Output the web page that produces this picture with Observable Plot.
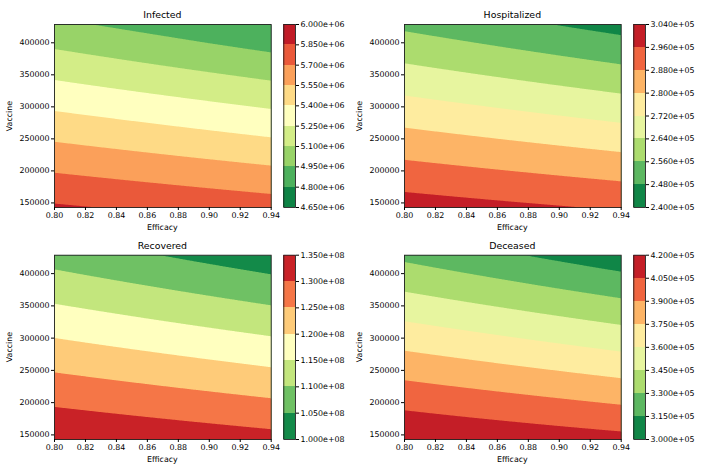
<!DOCTYPE html>
<html><head><meta charset="utf-8">
<script src="https://cdn.jsdelivr.net/npm/d3@7"></script>
<script src="https://cdn.jsdelivr.net/npm/@observablehq/plot@0.6"></script>
<style>
body{margin:0;background:#fff;}
#root{position:relative;width:701px;height:468px;overflow:hidden;background:#fff;font-family:"DejaVu Sans";color:#000;}
.abs{position:absolute;}
.lbl{position:absolute;white-space:nowrap;line-height:1;font-weight:400;}
</style></head><body><div id="root"></div>
<script>
// ---- data ----
const efficacyEdges = [0.80, 0.94];
const vaccineRows = [140000, 200000, 250000, 300000, 350000, 400000, 430000];
const xTicks = [0.80, 0.82, 0.84, 0.86, 0.88, 0.90, 0.92, 0.94];
const yTicks = [150000, 200000, 250000, 300000, 350000, 400000];

const infectedLeft  = [5878000, 5691000, 5536000, 5380000, 5225000, 5070000, 4976000];
const infectedRight = [5781000, 5578000, 5408000, 5239000, 5069000, 4899000, 4803000];
const infectedLevels = [4650000, 4800000, 4950000, 5100000, 5250000, 5400000, 5550000, 5700000, 5850000, 6000000];

const hospLeft  = [300320, 290760, 282790, 274830, 266860, 258900, 254120];
const hospRight = [295650, 285140, 276380, 267620, 258860, 250100, 244840];
const hospLevels = [240000, 248000, 256000, 264000, 272000, 280000, 288000, 296000, 304000];

const recLeft  = [135000000, 129380000, 124710000, 120020000, 115310000, 110620000, 107810000];
const recRight = [131960000, 125710000, 120510000, 115300000, 110090000, 104890000, 101760000];
const recLevels = [100000000, 105000000, 110000000, 115000000, 120000000, 125000000, 130000000, 135000000];

const decLeft  = [420000, 401300, 385000, 368600, 352200, 335900, 326100];
const decRight = [410550, 388800, 370600, 352400, 334300, 316100, 305200];
const decLevels = [300000, 315000, 330000, 345000, 360000, 375000, 390000, 405000, 420000];

const titles = ["Infected", "Hospitalized", "Recovered", "Deceased"];
const xLabel = "Efficacy";
const yLabel = "Vaccine";

// ---- styling ----
const anchors = ["#006837","#1a9850","#66bd63","#a6d96a","#d9ef8b","#ffffbf","#fee08b","#fdae61","#f46d43","#d73027","#a50026"];
const ramp = d3.piecewise(d3.interpolateRgb, anchors);
const FONT = "DejaVu Sans";

function sciFmt(d) {
  const [m, e] = d.toExponential(3).split("e");
  const sign = e[0] === "-" ? "-" : "+";
  return m + "e" + sign + e.replace(/^[+-]/, "").padStart(2, "0");
}

// Interpolator for Plot.contour: linear along each edge column, linear across x.
function edgeInterpolate(index, w, h, X, Y, V) {
  const pts = Array.from(index, i => ({x: X[i], y: Y[i], v: V[i]}));
  const [xa, xb] = d3.extent(pts, d => d.x);
  const mid = (xa + xb) / 2;
  const L = pts.filter(d => d.x < mid).sort((a, b) => a.y - b.y);
  const R = pts.filter(d => d.x >= mid).sort((a, b) => a.y - b.y);
  const col = (c, y) => {
    let j = 0;
    while (j < c.length - 2 && y > c[j + 1].y) j++;
    const p = c[j], q = c[j + 1];
    return p.v + (q.v - p.v) * (y - p.y) / (q.y - p.y);
  };
  const out = new Float64Array(w * h);
  for (let j = 0; j < h; j++) {
    const y = j + 0.5;
    const a = col(L, y), b = col(R, y);
    for (let i = 0; i < w; i++) {
      const t = (i + 0.5 - xa) / (xb - xa);
      out[i + j * w] = a + (b - a) * t;
    }
  }
  return out;
}

function addLabel(root, text, css) {
  const d = document.createElement("div");
  d.className = "lbl";
  d.textContent = text;
  Object.assign(d.style, css);
  root.appendChild(d);
}

function panel(title, left, right, levels, px, py, w, mt, mb) {
  const H = 234;
  const rows = [];
  vaccineRows.forEach((v, i) => {
    rows.push({e: efficacyEdges[0], v, z: left[i]});
    rows.push({e: efficacyEdges[1], v, z: right[i]});
  });
  const n = levels.length - 1;
  const colors = d3.range(n).map(i => ramp((i + 0.5) / n));
  const color = {type: "threshold", domain: levels.slice(1, -1), range: colors};
  const frameLeft = 54, frameRight = 270.7;
  const textStyle = {fontFamily: FONT, fontSize: "7.9px", color: "#000", background: "transparent", overflow: "visible"};
  const main = Plot.plot({
    width: w, height: H,
    marginLeft: frameLeft, marginRight: w - frameRight, marginTop: mt, marginBottom: mb,
    style: textStyle,
    x: {domain: [0.80, 0.94]},
    y: {domain: [142857, 428571]},
    color,
    marks: [
      Plot.contour(rows, {x: "e", y: "v", fill: "z", thresholds: levels, interpolate: edgeInterpolate, pixelSize: 1, stroke: "none"}),
      Plot.frame({stroke: "#222", strokeWidth: 0.9}),
      Plot.axisX({ticks: xTicks, tickFormat: d3.format(".2f"), tickSize: 3, tickPadding: 2, label: null}),
      Plot.axisY({ticks: yTicks, tickFormat: d => String(d), tickSize: 3, tickPadding: 2, label: null})
    ]
  });
  const bands = d3.range(n).map(i => ({lo: levels[i], hi: levels[i + 1]}));
  const bar = Plot.plot({
    width: 67, height: H,
    marginLeft: 0.3, marginRight: 55, marginTop: mt, marginBottom: mb,
    style: textStyle,
    x: {domain: [0, 1], axis: null},
    y: {domain: [levels[0], levels[levels.length - 1]], axis: null},
    color,
    marks: [
      Plot.rect(bands, {x1: 0, x2: 1, y1: "lo", y2: "hi", fill: "lo", shapeRendering: "crispEdges"}),
      Plot.frame({stroke: "#222", strokeWidth: 0.9}),
      Plot.axisY({anchor: "right", ticks: levels, tickFormat: sciFmt, tickSize: 3, tickPadding: 2, label: null})
    ]
  });
  const root = document.getElementById("root");
  main.classList.add("abs");
  main.style.left = px + "px"; main.style.top = py + "px";
  bar.classList.add("abs");
  bar.style.left = (px + 283) + "px"; bar.style.top = py + "px";
  root.appendChild(main);
  root.appendChild(bar);
  const cx = px + (frameLeft + frameRight) / 2;
  const frameTop = py + mt, frameBottom = py + H - mb;
  addLabel(root, title, {fontSize: "9.4px", left: cx + "px", top: (frameTop - 14) + "px", transform: "translateX(-50%)"});
  addLabel(root, xLabel, {fontSize: "7.9px", left: cx + "px", top: (frameBottom + 17) + "px", transform: "translateX(-50%)"});
  addLabel(root, yLabel, {fontSize: "7.9px", left: (px + 9.5) + "px", top: ((frameTop + frameBottom) / 2) + "px", transform: "translate(-50%,-50%) rotate(-90deg)"});
}

panel(titles[0], infectedLeft, infectedRight, infectedLevels, 0, 0, 350, 24, 27);
panel(titles[1], hospLeft, hospRight, hospLevels, 350, 0, 351, 24, 27);
panel(titles[2], recLeft, recRight, recLevels, 0, 234, 350, 20.7, 29);
panel(titles[3], decLeft, decRight, decLevels, 350, 234, 351, 20.7, 29);
</script>
</body></html>
